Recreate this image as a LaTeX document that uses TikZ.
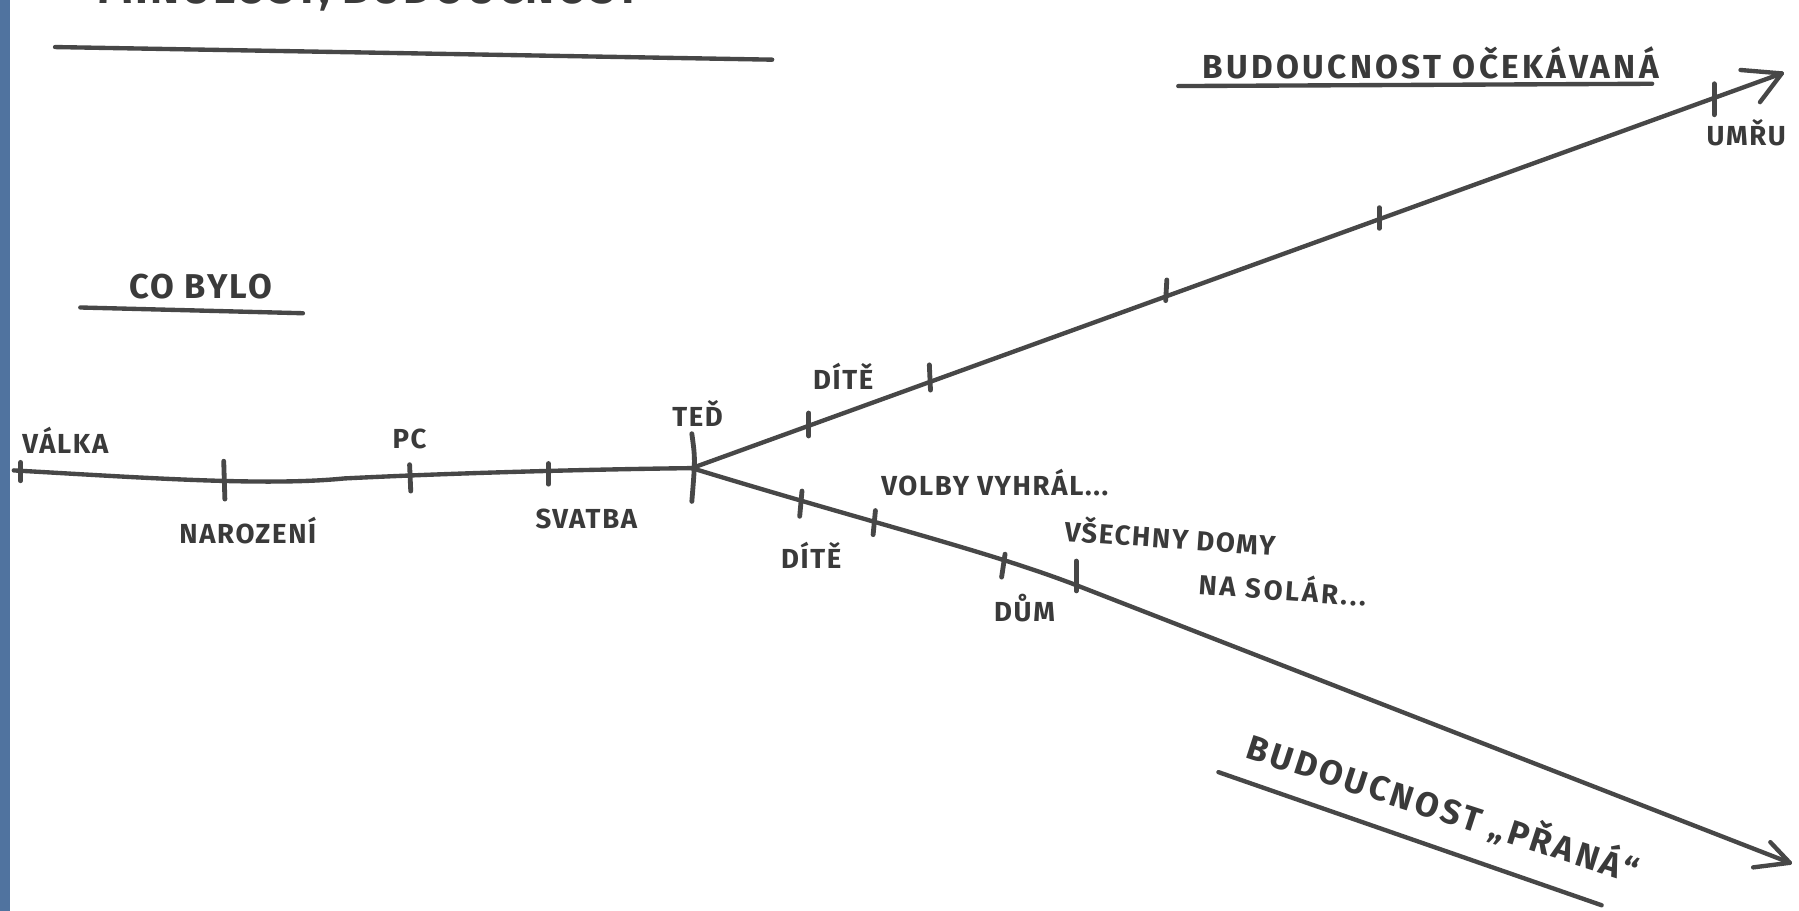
\documentclass[tikz,border=0pt]{standalone}
\usepackage{fontspec}
\setmainfont{Fira Sans}[LetterSpace=6]
\definecolor{ink}{HTML}{474747}
\definecolor{txt}{HTML}{3A3A3A}
\definecolor{strip}{HTML}{50739F}
\begin{document}
\begin{tikzpicture}[x=0.5pt,y=-0.5pt,
  pen/.style={draw=ink,line width=1.9pt,line cap=round,line join=round},
  tickmark/.style={draw=ink,line width=2.1pt,line cap=round},
  lbl/.style={text=txt,font=\bfseries\fontsize{12}{14}\selectfont,inner sep=0pt},
  head/.style={text=txt,font=\bfseries\fontsize{14.5}{16}\selectfont,inner sep=0pt}]
\useasboundingbox (0,0) rectangle (1568,794);
\clip (0,0) rectangle (1568,794);
\fill[white] (0,0) rectangle (1568,794);
\fill[strip] (0,0) rectangle (8.5,794);

% title (cut off at top)
\node[head,font=\bfseries\fontsize{19}{21}\selectfont,anchor=base] (title) at (322,3) {MINULOST, BUDOUCNOST};
\coordinate (tuA) at (48,41); \coordinate (tuB) at (673,52);
\draw[pen] (tuA) -- (tuB);

% CO BYLO
\node[head,font=\bfseries\fontsize{15}{17}\selectfont] (cobylo) at (175,250) {CO BYLO};
\coordinate (cuA) at (70,268); \coordinate (cuB) at (264,273);
\draw[pen] (cuA) -- (cuB);

% timeline past
\coordinate (start) at (12,410);
\coordinate (now) at (603,408);
\draw[pen] (start) .. controls (120,416) and (230,424) .. (300,417)
  .. controls (400,412) and (520,409) .. (now);
\draw[tickmark] (18,403) -- (18,419);
\draw[tickmark] (195,402) -- (196,435);
\draw[tickmark] (357,405) -- (358,428);
\draw[tickmark] (478,404) -- (478,422);
\draw[tickmark] (603,378) .. controls (606,400) .. (603,437);

% upper branch
\coordinate (upTip) at (1553,64);
\draw[pen] (now) -- (upTip);
\draw[pen] (1517,61) -- (upTip) -- (1534,89);
\draw[tickmark] (705,360) -- (705,380);
\draw[tickmark] (810,318) -- (811,340);
\draw[tickmark] (1017,244) -- (1016,262);
\draw[tickmark] (1202,181) -- (1202,199);
\draw[tickmark] (1494,73) -- (1494,100);

% lower branch
\coordinate (loTip) at (1560,752);
\draw[pen] (now) .. controls (760,456) and (860,480) .. (938,510)
  -- (loTip);
\draw[pen] (1543,734) -- (loTip) -- (1528,756);
\draw[tickmark] (699,428) -- (697,450);
\draw[tickmark] (763,445) -- (761,466);
\draw[tickmark] (876,483) -- (873,503);
\draw[tickmark] (938,489) -- (938,515);

% labels past
\node[lbl] (valka) at (57,384) {VÁLKA};
\node[lbl] (narozeni) at (216,462) {NAROZENÍ};
\node[lbl] (pc) at (357,383) {PC};
\node[lbl] (svatba) at (511,452) {SVATBA};
\node[lbl] (ted) at (608,360) {TEĎ};

% labels upper
\node[lbl] (diteU) at (735,328) {DÍTĚ};
\node[head,font=\bfseries\fontsize{14.5}{16}\addfontfeature{LetterSpace=10}\selectfont] (ocek) at (1247,55) {BUDOUCNOST OČEKÁVANÁ};
\coordinate (ouA) at (1027,75); \coordinate (ouB) at (1440,73);
\draw[pen] (ouA) -- (ouB);
\node[lbl] (umru) at (1522,116) {UMŘU};

% labels lower
\node[lbl] (diteL) at (707,484) {DÍTĚ};
\node[lbl] (volby) at (867,421) {VOLBY VYHRÁL...};
\node[lbl,rotate=-4] (vsechny) at (1020,467) {VŠECHNY DOMY};
\node[lbl,rotate=-4,font=\bfseries\fontsize{12}{14}\addfontfeature{LetterSpace=10}\selectfont] (solar) at (1118,512) {NA SOLÁR...};
\node[lbl] (dum) at (893,530) {DŮM};
\node[head,rotate=-18,font=\bfseries\fontsize{15}{17}\addfontfeature{LetterSpace=9}\selectfont] (prana) at (1258,704) {BUDOUCNOST „PŘANÁ“};
\coordinate (puA) at (1062,673); \coordinate (puB) at (1396,789);
\draw[pen] (puA) -- (puB);
\end{tikzpicture}
\end{document}
